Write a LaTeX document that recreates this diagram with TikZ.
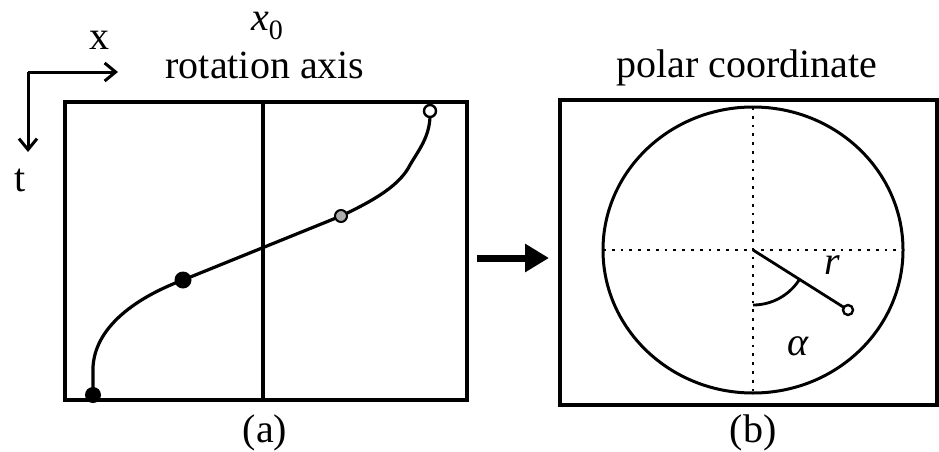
\documentclass[tikz,border=0pt]{standalone}
\usepackage{fontspec}
\setmainfont{Liberation Serif}
\usetikzlibrary{arrows.meta}
\tikzset{
  lbl/.style={inner sep=0pt, font=\fontsize{40}{46}\selectfont},
  frame/.style={line width=3.4pt},
  curvel/.style={line width=3.2pt},
  dotline/.style={line width=2.8pt, dash pattern=on 2.8pt off 6pt},
  axisarrow/.style={line width=3pt, -{Straight Barb[length=11pt,width=18pt,line width=3pt]}},
  bigarrow/.style={line width=7pt, -{Triangle[length=24pt,width=27pt]}},
}
\begin{document}
\begin{tikzpicture}[x=1pt,y=-1pt]
\useasboundingbox (0,0) rectangle (939,452);
% axes
\coordinate (o) at (28,72);
\coordinate (xe) at (118,72);
\coordinate (te) at (28,152);
\draw[axisarrow] (o) -- (xe);
\draw[axisarrow] (o) -- (te);
\node[lbl] (xl) at (99,40) {x};
\node[lbl] (tl) at (20,180) {t};
\node[lbl] (x0) at (267,26) {\textit{x}\raisebox{-0.22em}{\fontsize{28}{30}\selectfont 0}};
\node[lbl] (rot) at (265,65) {rotation axis};
% left box
\draw[frame] (65,102) rectangle (467,400);
\coordinate (axt) at (263,102);
\coordinate (axb) at (263,400);
\draw[frame] (axt) -- (axb);
% curve
\coordinate (p0) at (93,395);
\coordinate (p1) at (183,280);
\coordinate (p2) at (341,216);
\coordinate (p3) at (430,111);
\draw[curvel] (p0) -- (93,367) .. controls (95,330) and (130,300) .. (p1) -- (p2)
  .. controls (375,200) and (400,185) .. (410,165) .. controls (420,148) and (431,135) .. (p3);
\fill (p0) circle (8pt);
\fill (p1) circle (8.5pt);
\filldraw[fill=gray!65, line width=2pt] (p2) circle (6pt);
\filldraw[fill=white, line width=2.4pt] (p3) circle (6pt);
\node[lbl] (la) at (265,433) {(a)};
% big arrow
\coordinate (ba) at (477,258);
\coordinate (bb) at (549,258);
\draw[bigarrow] (ba) -- (bb);
% right box
\node[lbl] (pc) at (747,68) {polar coordinate};
\draw[frame] (560,100) rectangle (937,405);
\coordinate (c) at (753,250);
\draw[line width=3pt] (c) ellipse [x radius=150, y radius=143];
\coordinate (cl) at (603,250);
\coordinate (cr) at (903,250);
\coordinate (ct) at (753,107);
\coordinate (cb) at (753,393);
\draw[dotline] (cl) -- (cr);
\draw[dotline] (ct) -- (cb);
\coordinate (pt) at (848,310);
\draw[line width=2.8pt] (c) -- (pt);
\filldraw[fill=white, line width=2.4pt] (pt) circle (5pt);
\draw[line width=2.8pt] (753,305) arc[start angle=90, end angle=32, radius=55];
\node[lbl] (rl) at (832,265) {\textit{r}};
\node[lbl] (al) at (798,346) {\textit{α}};
\node[lbl] (lb) at (753,433) {(b)};
\end{tikzpicture}
\end{document}
